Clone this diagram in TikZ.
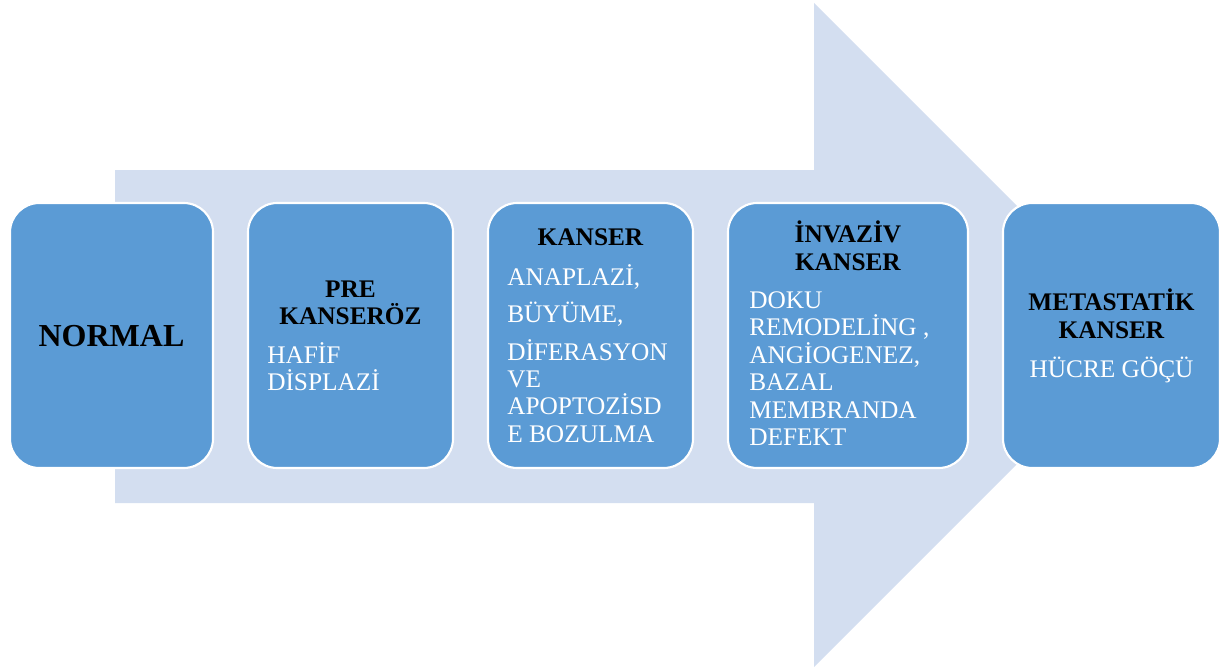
\documentclass[tikz,border=0pt]{standalone}
\usepackage{fontspec}
\setmainfont{Liberation Serif}
\definecolor{arrowfill}{RGB}{211,222,240}
\definecolor{boxfill}{RGB}{91,155,213}
\begin{document}
\begin{tikzpicture}[x=0.75pt,y=-0.75pt,
  stagebox/.style={draw=white,line width=1.6pt,fill=boxfill,rounded corners=22pt},
  headtxt/.style={inner sep=0pt,anchor=base,font=\fontsize{19}{20}\selectfont\bfseries,text=black},
  bodytxt/.style={inner sep=0pt,anchor=base west,font=\fontsize{19}{20}\selectfont,text=white},
  bodyc/.style={inner sep=0pt,anchor=base,font=\fontsize{19}{20}\selectfont,text=white}]
\useasboundingbox (0,0) rectangle (1232,667);
% big arrow
\fill[arrowfill] (115,170) -- (814,170) -- (814,3) -- (1146,335) -- (814,667) -- (814,503) -- (115,503) -- cycle;
% boxes
\draw[stagebox] (10,203) rectangle (213,468);
\draw[stagebox] (248,203) rectangle (453,468);
\draw[stagebox] (488,203) rectangle (693,468);
\draw[stagebox] (728,203) rectangle (968,468);
\draw[stagebox] (1003,203) rectangle (1220,468);
% box 1
\node[inner sep=0pt,anchor=base,font=\fontsize{24}{26}\selectfont\bfseries] (n1) at (111.5,346) {NORMAL};
% box 2
\node[headtxt] (h2a) at (350.5,297) {PRE};
\node[headtxt] (h2b) at (350.5,324) {KANSERÖZ};
\node[bodytxt] (b2a) at (267,363) {HAFİF};
\node[bodytxt] (b2b) at (267,390) {DİSPLAZİ};
% box 3
\node[headtxt] (h3a) at (590.5,245) {KANSER};
\node[bodytxt] (b3a) at (507,285) {ANAPLAZİ,};
\node[bodytxt] (b3b) at (507,322) {BÜYÜME,};
\node[bodytxt] (b3c) at (507,360) {DİFERASYON};
\node[bodytxt] (b3d) at (507,387) {VE};
\node[bodytxt] (b3e) at (507,414) {APOPTOZİSD};
\node[bodytxt] (b3f) at (507,442) {E BOZULMA};
% box 4
\node[headtxt] (h4a) at (848,242) {İNVAZİV};
\node[headtxt] (h4b) at (848,270) {KANSER};
\node[bodytxt] (b4a) at (749,308) {DOKU};
\node[bodytxt] (b4b) at (749,335) {REMODELİNG ,};
\node[bodytxt] (b4c) at (749,363) {ANGİOGENEZ,};
\node[bodytxt] (b4d) at (749,390) {BAZAL};
\node[bodytxt] (b4e) at (749,418) {MEMBRANDA};
\node[bodytxt] (b4f) at (749,445) {DEFEKT};
% box 5
\node[headtxt] (h5a) at (1111.5,310) {METASTATİK};
\node[headtxt] (h5b) at (1111.5,338) {KANSER};
\node[bodyc] (b5a) at (1111.5,377) {HÜCRE GÖÇÜ};
\end{tikzpicture}
\end{document}
